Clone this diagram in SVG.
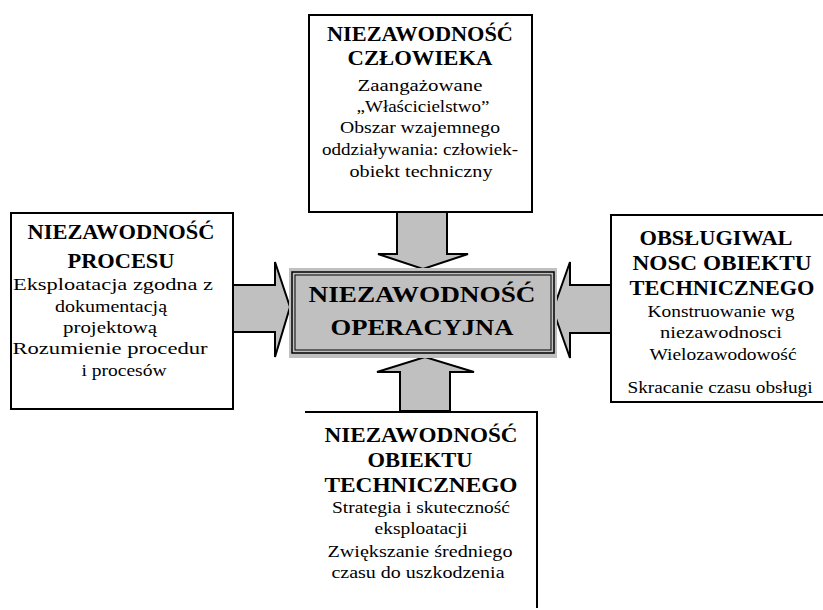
<svg xmlns="http://www.w3.org/2000/svg" width="823" height="610" viewBox="0 0 823 610">
<style>
.box{fill:#fff;stroke:#000;stroke-width:2}
.arrow{fill:#c0c0c0;stroke:#000;stroke-width:2;stroke-linejoin:miter}
text{font-family:"Liberation Serif","Times New Roman",serif;fill:#000;text-anchor:middle}
.h{font-size:21px;font-weight:bold}
.c{font-size:23px;font-weight:bold}
.b{font-size:16px}
</style>
<rect width="823" height="610" fill="#fff"/>
<g id="connectors">
<polygon class="arrow" points="397,212 447,212 447,254 468,254 423,269 378,254 397,254"/>
<polygon class="arrow" points="233,285 275,285 275,262 290,307 275,357 275,332 233,332"/>
<polygon class="arrow" points="611,285 570,285 570,262 553,310 570,358 570,333 611,333"/>
<polygon class="arrow" points="400,411 400,372 377,372 425,357 474,372 450,372 450,411"/>
</g>
<g id="node-czlowiek">
<rect class="box" x="309" y="15" width="223" height="197"/>
<text class="h" x="420" y="41" textLength="186" lengthAdjust="spacingAndGlyphs">NIEZAWODNOŚĆ</text>
<text class="h" x="420" y="65" textLength="145" lengthAdjust="spacingAndGlyphs">CZŁOWIEKA</text>
<text class="b" x="420" y="91" textLength="125" lengthAdjust="spacingAndGlyphs">Zaangażowane</text>
<text class="b" x="423" y="112" textLength="133" lengthAdjust="spacingAndGlyphs">„Właścicielstwo”</text>
<text class="b" x="420" y="133" textLength="160" lengthAdjust="spacingAndGlyphs">Obszar wzajemnego</text>
<text class="b" x="420" y="155" textLength="196" lengthAdjust="spacingAndGlyphs">oddziaływania: człowiek-</text>
<text class="b" x="421" y="177" textLength="143" lengthAdjust="spacingAndGlyphs">obiekt techniczny</text>
</g>
<g id="node-proces">
<rect class="box" x="11" y="213" width="222" height="196"/>
<text class="h" x="121" y="239" textLength="187" lengthAdjust="spacingAndGlyphs">NIEZAWODNOŚĆ</text>
<text class="h" x="121" y="268" textLength="107" lengthAdjust="spacingAndGlyphs">PROCESU</text>
<text class="b" x="113" y="290" textLength="200" lengthAdjust="spacingAndGlyphs">Eksploatacja zgodna z</text>
<text class="b" x="111" y="312" textLength="112" lengthAdjust="spacingAndGlyphs">dokumentacją</text>
<text class="b" x="110" y="333" textLength="94" lengthAdjust="spacingAndGlyphs">projektową</text>
<text class="b" x="110" y="354" textLength="195" lengthAdjust="spacingAndGlyphs">Rozumienie procedur</text>
<text class="b" x="124" y="376" textLength="85" lengthAdjust="spacingAndGlyphs">i procesów</text>
</g>
<g id="node-obslugiwalnosc">
<path class="box" d="M823,215 H611 V402 H823"/>
<text class="h" x="716" y="245" textLength="153" lengthAdjust="spacingAndGlyphs">OBSŁUGIWAL</text>
<text class="h" x="722" y="270" textLength="179" lengthAdjust="spacingAndGlyphs">NOSC OBIEKTU</text>
<text class="h" x="722" y="295" textLength="185" lengthAdjust="spacingAndGlyphs">TECHNICZNEGO</text>
<text class="b" x="721" y="317" textLength="147" lengthAdjust="spacingAndGlyphs">Konstruowanie wg</text>
<text class="b" x="721" y="338" textLength="122" lengthAdjust="spacingAndGlyphs">niezawodnosci</text>
<text class="b" x="723" y="360" textLength="147" lengthAdjust="spacingAndGlyphs">Wielozawodowość</text>
<text class="b" x="720" y="393" textLength="185" lengthAdjust="spacingAndGlyphs">Skracanie czasu obsługi</text>
</g>
<g id="node-obiekt">
<path class="box" d="M305,412 H537 V608"/>
<text class="h" x="421" y="442" textLength="193" lengthAdjust="spacingAndGlyphs">NIEZAWODNOŚĆ</text>
<text class="h" x="420" y="467" textLength="105" lengthAdjust="spacingAndGlyphs">OBIEKTU</text>
<text class="h" x="421" y="492" textLength="193" lengthAdjust="spacingAndGlyphs">TECHNICZNEGO</text>
<text class="b" x="421" y="513" textLength="178" lengthAdjust="spacingAndGlyphs">Strategia i skuteczność</text>
<text class="b" x="421" y="534" textLength="93" lengthAdjust="spacingAndGlyphs">eksploatacji</text>
<text class="b" x="420" y="557" textLength="185" lengthAdjust="spacingAndGlyphs">Zwiększanie średniego</text>
<text class="b" x="418" y="578" textLength="173" lengthAdjust="spacingAndGlyphs">czasu do uszkodzenia</text>
</g>
<g id="node-operacyjna">
<rect x="289" y="268" width="268" height="90" fill="#c0c0c0"/>
<rect x="292" y="272" width="262" height="81" fill="none" stroke="#000" stroke-width="1.5"/>
<rect x="295" y="275" width="256" height="75" fill="none" stroke="#000" stroke-width="1"/>
<text class="c" x="422" y="302" textLength="227" lengthAdjust="spacingAndGlyphs">NIEZAWODNOŚĆ</text>
<text class="c" x="422" y="335" textLength="183" lengthAdjust="spacingAndGlyphs">OPERACYJNA</text>
</g>
</svg>
